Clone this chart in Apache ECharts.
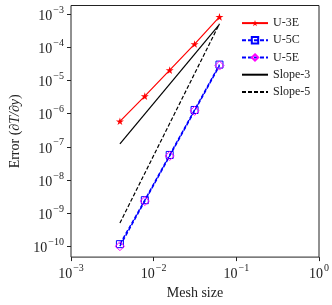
<!DOCTYPE html>
<html>
<head>
<meta charset="utf-8">
<script src="https://cdn.jsdelivr.net/npm/echarts@6/dist/echarts.min.js"></script>
<style>html,body{margin:0;padding:0;background:#fff}#c{width:332px;height:305px}</style>
</head>
<body>
<div id="c"></div>
<script>
// Data
var meshSize = [0.00390625, 0.0078125, 0.015625, 0.03125, 0.0625];
var errU3E = [5.9e-7, 3.4e-6, 2.07e-5, 1.27e-4, 8.4e-4];
var errU5C = [1.15e-10, 2.45e-9, 5.7e-8, 1.3e-6, 3.05e-5];
var errU5E = [1.0e-10, 2.3e-9, 5.3e-8, 1.22e-6, 2.85e-5];
var slope3X = [0.00390625, 0.0625];
var slope3Y = [1.22e-7, 5.0e-4];
var slope5X = [0.00390625, 0.0625];
var slope5Y = [5.0e-10, 5.2e-4];
var yTickExponents = [-10, -9, -8, -7, -6, -5, -4, -3];
var seriesNames = ['U-3E', 'U-5C', 'U-5E', 'Slope-3', 'Slope-5'];

function pairs(xs, ys) { return xs.map(function (x, i) { return [x, ys[i]]; }); }

var FONT = 'Liberation Serif';
var yLogMin = -10.33, yLogMax = -2.731;
var star = 'path://M50,0 L61,35 L98,35 L68,57 L79,91 L50,70 L21,91 L32,57 L2,35 L39,35 Z';

function sup(e) { return '{b|10}{s|' + (e < 0 ? '\u2212' + (-e) : e) + '}'; }
var richTick = {
  b: { fontFamily: FONT, fontSize: 14, color: '#222', lineHeight: 18, verticalAlign: 'bottom' },
  s: { fontFamily: FONT, fontSize: 10, color: '#222', lineHeight: 10, verticalAlign: 'top', padding: [0, 0, 0, 1] }
};

var chart = echarts.init(document.getElementById('c'), null, { renderer: 'canvas' });
chart.setOption({
  animation: false,
  backgroundColor: '#fff',
  grid: { left: 61, right: 10.3, top: 5.5, bottom: 39.7, show: true, borderColor: '#222', borderWidth: 1, backgroundColor: 'transparent' },
  legend: {
    orient: 'vertical', left: 236, top: 9.5,
    itemWidth: 26, itemHeight: 8, itemGap: 0,
    textStyle: { fontFamily: FONT, fontSize: 12, color: '#222', lineHeight: 17.2 },
    data: seriesNames
  },
  xAxis: [{
    type: 'log', logBase: 10, min: 0.001, max: 1,
    name: 'Mesh size', nameLocation: 'middle', nameGap: 20,
    nameTextStyle: { fontFamily: FONT, fontSize: 14, color: '#222' },
    axisLine: { show: false },
    axisTick: { show: true, length: 4, lineStyle: { color: '#222', width: 1 } },
    axisLabel: { margin: 6, formatter: function (v) { return sup(Math.round(Math.log10(v))); }, rich: richTick },
    splitLine: { show: false }
  }],
  yAxis: [{
    type: 'log', logBase: 10, min: Math.pow(10, yLogMin), max: Math.pow(10, yLogMax),
    axisLine: { show: false }, axisTick: { show: false }, axisLabel: { show: false }, splitLine: { show: false }
  }, {
    type: 'value', min: yLogMin, max: yLogMax, position: 'left',
    name: 'Error ({i|\u2202T/\u2202y})', nameLocation: 'middle', nameGap: 49,
    nameTextStyle: { fontFamily: FONT, fontSize: 14, color: '#222',
      rich: { i: { fontFamily: FONT, fontSize: 14, fontStyle: 'italic', color: '#222' } } },
    axisLine: { show: false },
    axisTick: { show: true, length: 4, customValues: yTickExponents, lineStyle: { color: '#222', width: 1 } },
    axisLabel: { margin: 7, customValues: yTickExponents, formatter: function (v) { return sup(Math.round(v)); }, rich: richTick },
    splitLine: { show: false }
  }],
  series: [{
    name: 'U-3E', type: 'line', xAxisIndex: 0, yAxisIndex: 0,
    data: pairs(meshSize, errU3E),
    symbol: star, symbolSize: 8, symbolKeepAspect: true,
    lineStyle: { color: '#ff0000', width: 1.2 },
    itemStyle: { color: '#ff0000' }
  }, {
    name: 'U-5C', type: 'line', xAxisIndex: 0, yAxisIndex: 0,
    data: pairs(meshSize, errU5C),
    symbol: 'rect', symbolSize: 7,
    lineStyle: { color: '#0000ff', width: 1.5, type: [4, 2] },
    itemStyle: { color: 'rgba(0,0,0,0)', borderColor: '#0000ff', borderWidth: 1 }
  }, {
    name: 'U-5E', type: 'line', xAxisIndex: 0, yAxisIndex: 0,
    data: pairs(meshSize, errU5E),
    symbol: 'diamond', symbolSize: 9,
    lineStyle: { color: '#0000ff', width: 1.5, type: [4, 2] },
    itemStyle: { color: 'rgba(0,0,0,0)', borderColor: '#ff00ff', borderWidth: 1 }
  }, {
    name: 'Slope-3', type: 'line', xAxisIndex: 0, yAxisIndex: 0,
    data: pairs(slope3X, slope3Y),
    symbol: 'none',
    lineStyle: { color: '#000', width: 1.2 },
    itemStyle: { color: 'rgba(0,0,0,0)', borderWidth: 0 }
  }, {
    name: 'Slope-5', type: 'line', xAxisIndex: 0, yAxisIndex: 0,
    data: pairs(slope5X, slope5Y),
    symbol: 'none',
    lineStyle: { color: '#000', width: 1.2, type: [4, 2] },
    itemStyle: { color: 'rgba(0,0,0,0)', borderWidth: 0 }
  }]
});
</script>
</body>
</html>
